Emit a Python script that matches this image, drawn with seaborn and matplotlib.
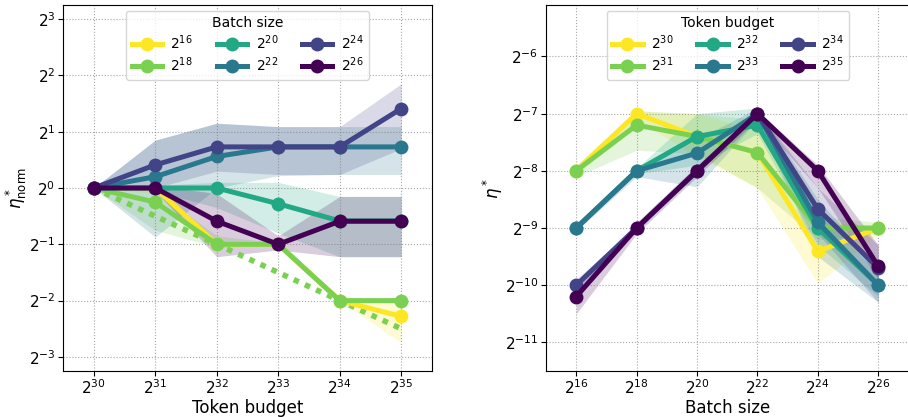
import numpy as np
import pandas as pd
import matplotlib.pyplot as plt
import seaborn as sns
from matplotlib.lines import Line2D

# log2 exponents
token_exp = [30, 31, 32, 33, 34, 35]
batch_exp = [16, 18, 20, 22, 24, 26]

# left panel: normalised optimal lr per batch size (log2), with band edges
norm_vals = {
    16: [0, 0, -1, -1, -2, -2.28],
    18: [0, -0.25, -1, -1, -2, -2],
    20: [0, 0, 0, -0.28, -0.585, -0.585],
    22: [0, 0.2, 0.56, 0.73, 0.73, 0.73],
    24: [0, 0.41, 0.73, 0.73, 0.73, 1.41],
    26: [0, 0, -0.59, -1, -0.59, -0.59],
}
norm_lo = {
    16: [0, -0.1, -1.05, -1.0, -2.0, -2.75],
    18: [0, -0.75, -1.05, -1.02, -2.02, -2.05],
    20: [0, -0.05, -0.35, -0.8, -1.22, -1.22],
    22: [0, -0.87, 0.0, 0.22, 0.24, 0.24],
    24: [0, 0.0, 0.3, 0.24, 0.24, 0.7],
    26: [0, -0.05, -1.22, -1.1, -1.22, -1.22],
}
norm_hi = {
    16: [0, 0, -0.95, -1.0, -2.0, -1.95],
    18: [0, -0.05, -0.85, -0.98, -1.98, -1.95],
    20: [0, 0.05, 0.1, 0.1, -0.15, -0.15],
    22: [0, 0.85, 1.15, 1.09, 1.09, 1.09],
    24: [0, 0.85, 1.15, 1.09, 1.09, 1.85],
    26: [0, 0.05, -0.1, -0.85, -0.15, -0.15],
}
sqrt_ref = [0, -0.5, -1, -1.5, -2, -2.5]

# right panel: optimal lr per token budget (log2) vs batch size
eta_vals = {
    30: [-8, -7, -7.4, -7.68, -9.41, -9.0],
    31: [-8, -7.2, -7.4, -7.68, -9.0, -9.0],
    32: [-9, -8, -7.4, -7.2, -9.0, -10.0],
    33: [-9, -8, -7.69, -7.0, -8.9, -10.0],
    34: [-10, -9, -8, -7, -8.67, -9.7],
    35: [-10.2, -9, -8, -7, -8, -9.67],
}
eta_lo = {
    30: [-8.05, -7.1, -7.75, -8.3, -9.97, -9.1],
    31: [-8.1, -7.64, -7.7, -8.3, -9.2, -9.1],
    32: [-9.05, -8.05, -7.9, -7.35, -9.3, -10.2],
    33: [-9.05, -8.1, -8.28, -7.1, -9.5, -10.3],
    34: [-10.1, -9.05, -8.05, -7.05, -9.1, -10.3],
    35: [-10.5, -9.1, -8.1, -7.1, -8.3, -9.9],
}
eta_hi = {
    30: [-7.95, -6.95, -7.0, -7.3, -8.9, -8.95],
    31: [-7.9, -6.95, -7.0, -7.1, -8.8, -8.9],
    32: [-8.95, -7.95, -7.0, -6.9, -8.7, -9.8],
    33: [-8.95, -7.95, -7.45, -6.9, -8.5, -9.7],
    34: [-9.9, -8.95, -7.95, -6.95, -8.3, -9.3],
    35: [-10.0, -8.9, -7.9, -6.95, -7.9, -9.3],
}

colors = list(plt.cm.viridis(np.linspace(0, 1, 6)))[::-1]

plt.rcParams.update({"xtick.labelsize": 11, "ytick.labelsize": 11,
                     "axes.labelsize": 12,
                     "xtick.major.pad": 2, "ytick.major.pad": 2})

fig = plt.figure(figsize=(9.08, 4.17), dpi=100)
ax1 = fig.add_axes([63 / 908, 46 / 417, 369 / 908, 366 / 417])
ax2 = fig.add_axes([546 / 908, 46 / 417, 364 / 908, 366 / 417])

line_kw = dict(marker="o", markersize=10, linewidth=3.6, markeredgewidth=0,
               errorbar=None, legend=False)


def panel(ax, xs, series, lo, hi, x_name, y_name, title):
    keys = list(series)
    labels = [f"$2^{{{k}}}$" for k in keys]
    pal = dict(zip(labels, colors))
    df = pd.DataFrame({
        x_name: np.tile(2.0 ** np.array(xs), len(keys)),
        y_name: 2.0 ** np.concatenate([series[k] for k in keys]),
        title: np.repeat(labels, len(xs)),
    })
    ax.set_xscale("log", base=2)
    ax.set_yscale("log", base=2)
    for k, c in zip(keys, colors):
        ax.fill_between(2.0 ** np.array(xs), 2.0 ** np.array(lo[k]),
                        2.0 ** np.array(hi[k]), color=c, alpha=0.2,
                        linewidth=0, zorder=1)
    sns.lineplot(data=df, x=x_name, y=y_name, hue=title, hue_order=labels,
                 palette=pal, ax=ax, zorder=3, **line_kw)
    handles = [Line2D([], [], color=c, marker="o", markersize=10,
                      linewidth=3.6, markeredgewidth=0) for c in colors]
    ax.legend(handles, labels, title=title, loc="upper center", ncol=3,
              fontsize=10, title_fontsize=10, handlelength=2.2,
              handletextpad=0.6, columnspacing=1.7, labelspacing=0.25,
              borderaxespad=0.4, framealpha=0.8)
    ax.grid(True, linestyle=":", color="gray", linewidth=0.8, alpha=0.7)
    ax.minorticks_off()


panel(ax1, token_exp, norm_vals, norm_lo, norm_hi,
      "Token budget", "eta_norm", "Batch size")
ax1.plot(2.0 ** np.array(token_exp), 2.0 ** np.array(sqrt_ref),
         color=colors[1], linewidth=4, linestyle=(0, (1, 1.2)), zorder=2)
ax1.set_xlim(2 ** 29.5, 2 ** 35.5)
ax1.set_ylim(2 ** -3.25, 2 ** 3.25)
ax1.set_xticks(2.0 ** np.array(token_exp))
ax1.set_yticks(2.0 ** np.arange(-3, 4))
ax1.set_xlabel("Token budget", labelpad=1)
ax1.set_ylabel(r"$\eta^*_{\mathrm{norm}}$", labelpad=0)

panel(ax2, batch_exp, eta_vals, eta_lo, eta_hi,
      "Batch size", "eta", "Token budget")
ax2.set_xlim(2 ** 15, 2 ** 27.05)
ax2.set_ylim(2 ** -11.5, 2 ** -5.1)
ax2.set_xticks(2.0 ** np.array(batch_exp))
ax2.set_yticks(2.0 ** np.arange(-11, -5))
ax2.set_xlabel("Batch size", labelpad=1)
ax2.set_ylabel(r"$\eta^*$", labelpad=0)

fig.savefig("out.png", dpi=100)
